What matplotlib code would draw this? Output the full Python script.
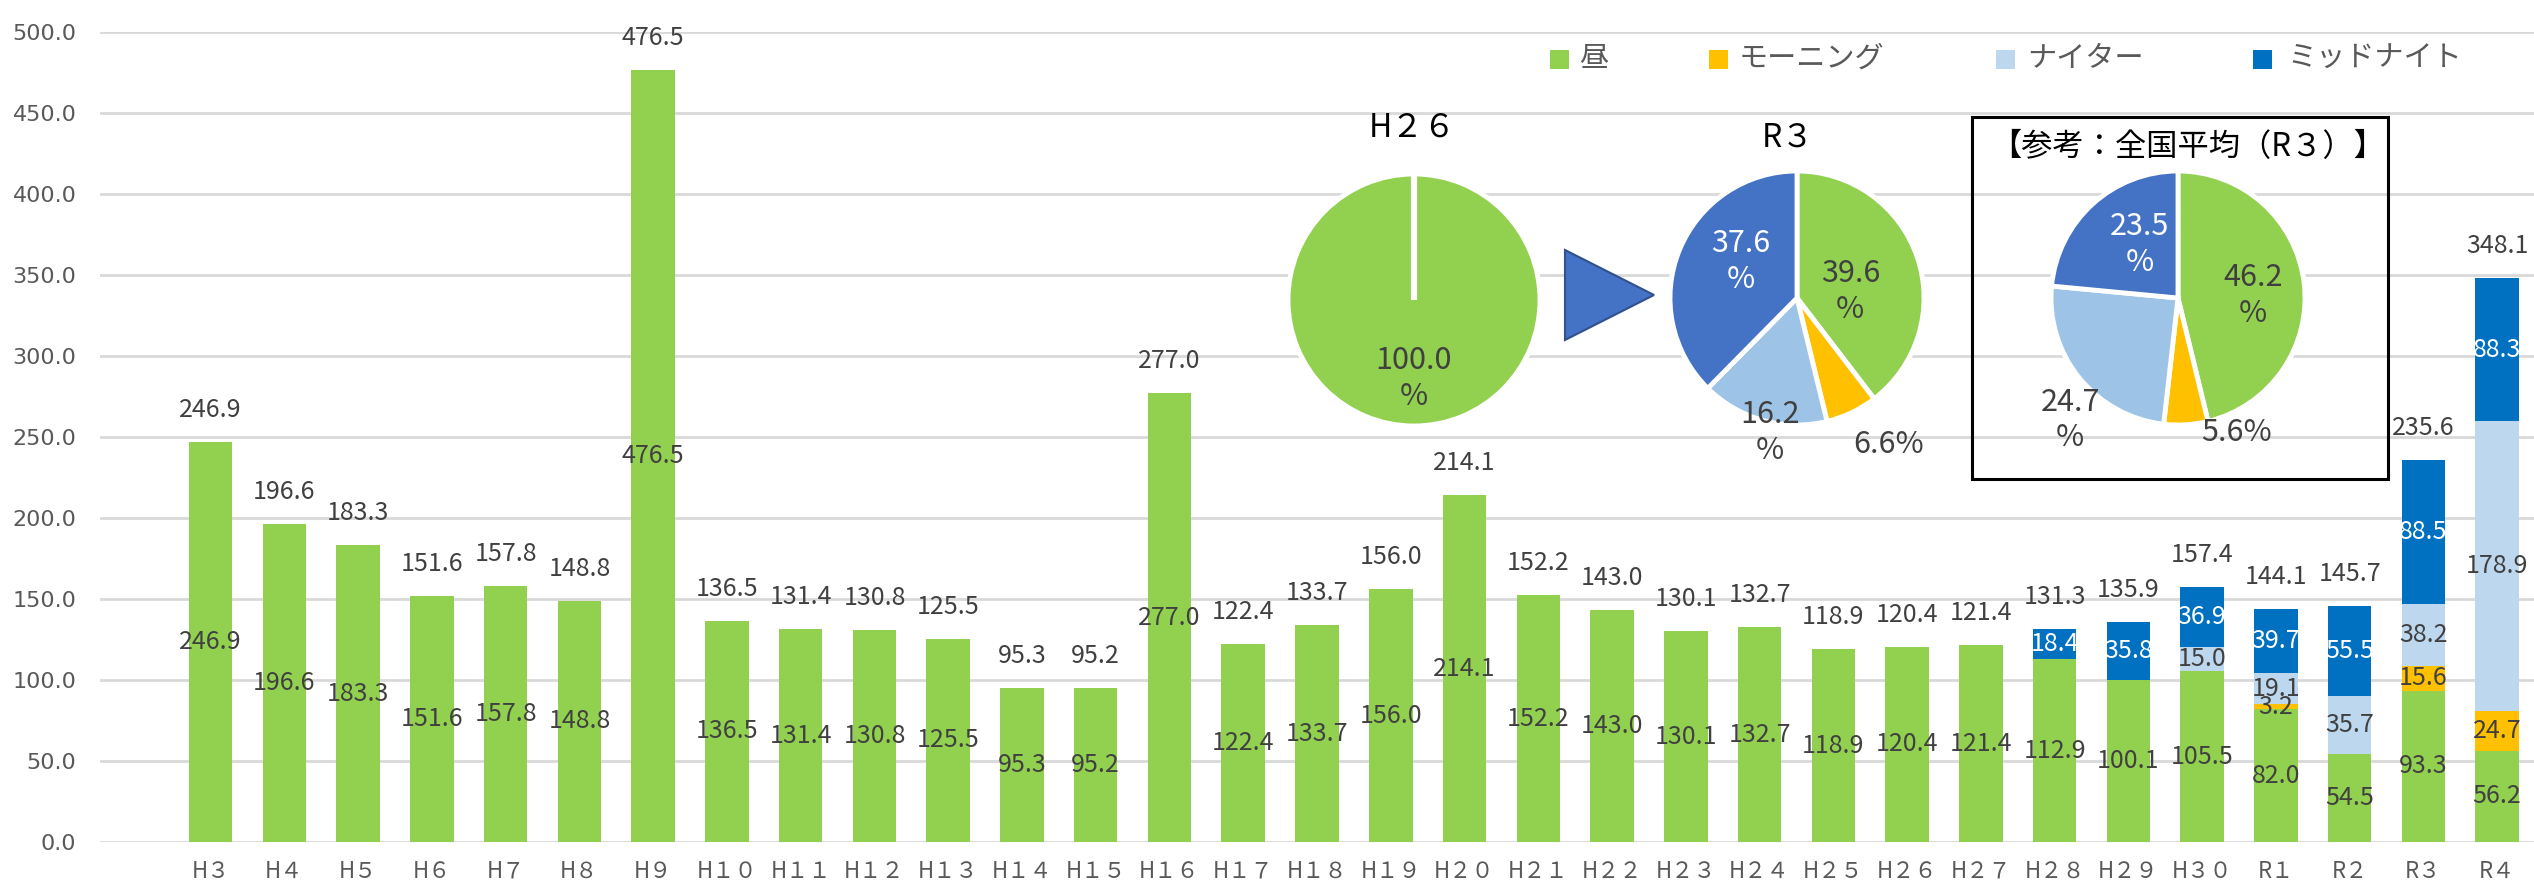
import matplotlib
matplotlib.use('Agg')
import matplotlib.pyplot as plt
from matplotlib import font_manager
from matplotlib.patches import Rectangle, Polygon
import numpy as np

# ---------------- data ----------------
categories = ['H３', 'H４', 'H５', 'H６', 'H７', 'H８', 'H９', 'H１０', 'H１１', 'H１２',
              'H１３', 'H１４', 'H１５', 'H１６', 'H１７', 'H１８', 'H１９', 'H２０', 'H２１', 'H２２',
              'H２３', 'H２４', 'H２５', 'H２６', 'H２７', 'H２８', 'H２９', 'H３０',
              'R１', 'R２', 'R３', 'R４']
day = [246.9, 196.6, 183.3, 151.6, 157.8, 148.8, 476.5, 136.5, 131.4, 130.8,
       125.5, 95.3, 95.2, 277.0, 122.4, 133.7, 156.0, 214.1, 152.2, 143.0,
       130.1, 132.7, 118.9, 120.4, 121.4, 112.9, 100.1, 105.5,
       82.0, 54.5, 93.3, 56.2]
morning = [0, 0, 0, 0, 0, 0, 0, 0, 0, 0,
           0, 0, 0, 0, 0, 0, 0, 0, 0, 0,
           0, 0, 0, 0, 0, 0, 0, 0,
           3.2, 0, 15.6, 24.7]
nighter = [0, 0, 0, 0, 0, 0, 0, 0, 0, 0,
           0, 0, 0, 0, 0, 0, 0, 0, 0, 0,
           0, 0, 0, 0, 0, 0, 0, 15.0,
           19.1, 35.7, 38.2, 178.9]
midnight = [0, 0, 0, 0, 0, 0, 0, 0, 0, 0,
            0, 0, 0, 0, 0, 0, 0, 0, 0, 0,
            0, 0, 0, 0, 0, 18.4, 35.8, 36.9,
            39.7, 55.5, 88.5, 88.3]
totals = [246.9, 196.6, 183.3, 151.6, 157.8, 148.8, 476.5, 136.5, 131.4, 130.8,
          125.5, 95.3, 95.2, 277.0, 122.4, 133.7, 156.0, 214.1, 152.2, 143.0,
          130.1, 132.7, 118.9, 120.4, 121.4, 131.3, 135.9, 157.4,
          144.1, 145.7, 235.6, 348.1]
series_names = ['昼', 'モーニング', 'ナイター', 'ミッドナイト']

pie_h26_vals = [100.0]
pie_r3_vals = [39.6, 6.6, 16.2, 37.6]
pie_nat_vals = [46.2, 5.6, 24.7, 23.5]
pie_h26_title = 'H２６'
pie_r3_title = 'R３'
pie_nat_title = '【参考：全国平均（R３）】'

# ---------------- style ----------------
W, H = 2534, 893
bar_colors = ['#92D050', '#FFC000', '#BDD7EE', '#0070C0']
pie_colors = ['#92D050', '#FFC000', '#9DC3E6', '#4472C4']
lbl_colors = ['#404040', '#404040', '#404040', 'white']
tick_color = '#595959'
grid_color = '#D9D9D9'


def has_font(name):
    try:
        font_manager.findfont(font_manager.FontProperties(family=name), fallback_to_default=False)
        return True
    except Exception:
        return False


narrow = 'Liberation Sans Narrow' if has_font('Liberation Sans Narrow') else 'Noto Sans CJK JP'
cjk = ['Noto Sans CJK JP', 'DejaVu Sans']

fig = plt.figure(figsize=(W / 100, H / 100), dpi=100)
fig.patch.set_facecolor('white')


def fx(x):
    return x / W


def fy(y):
    return 1 - y / H


ax = fig.add_axes([fx(100), fy(842), (2534 - 100) / W, (842 - 32) / H])
x = np.arange(len(categories))
stack = [day, morning, nighter, midnight]
bottom = np.zeros(len(categories))
bw = 0.59
for k, vals in enumerate(stack):
    v = np.array(vals, dtype=float)
    ax.bar(x, v, bw, bottom=bottom, color=bar_colors[k], zorder=3, label=series_names[k])
    for i in range(len(v)):
        if v[i] > 0:
            ax.text(x[i], bottom[i] + v[i] / 2, f'{v[i]:.1f}', ha='center', va='center',
                    fontsize=18, family=narrow, color=lbl_colors[k], zorder=5)
    bottom = bottom + v

for i, t in enumerate(totals):
    ax.annotate(f'{t:.1f}', (x[i], bottom[i]), xytext=(0, 23), textcoords='offset points',
                ha='center', va='center', fontsize=18, family=narrow, color='#404040', zorder=5)

ax.set_xlim(-1.5, len(categories) - 0.5)
ax.set_ylim(0, 500)
ax.set_yticks(np.arange(0, 501, 50))
ax.set_yticklabels([f'{v:.1f}' for v in np.arange(0, 501, 50)], fontsize=16,
                   color=tick_color, family='DejaVu Sans')
ax.set_xticks(x)
ax.set_xticklabels(categories, fontsize=16, color=tick_color, family=cjk)
ax.tick_params(axis='both', length=0)
ax.tick_params(axis='y', pad=17)
ax.tick_params(axis='x', pad=13)
ax.yaxis.grid(True, color=grid_color, linewidth=2, zorder=0)
ax.set_axisbelow(True)
for s in ax.spines.values():
    s.set_visible(False)
ax.set_facecolor('none')

# ---------------- legend (manual) ----------------
leg_sq_x = [1550, 1709, 1996, 2253]
leg_tx_x = [1579, 1739, 2027, 2287]
for k in range(4):
    fig.add_artist(Rectangle((fx(leg_sq_x[k]), fy(69)), 19 / W, 19 / H,
                             transform=fig.transFigure, color=bar_colors[k], lw=0))
    fig.text(fx(leg_tx_x[k]), fy(59), series_names[k], fontsize=21, family=cjk,
             color=tick_color, ha='left', va='center')


# ---------------- pies ----------------
def draw_pie(cx, cy, r, vals, offs, wraps, sep_line=False):
    k = 1.8
    pax = fig.add_axes([fx(cx - k * r), fy(cy + k * r), 2 * k * r / W, 2 * k * r / H])
    cols = pie_colors[:len(vals)]
    pax.pie(vals, colors=cols, startangle=90, counterclock=False, radius=1,
            wedgeprops=dict(edgecolor='white', linewidth=3.5))
    if sep_line:
        pax.plot([0, 0], [0, 1.0], color='white', lw=4.5, solid_capstyle='butt')
    pax.set_xlim(-k, k)
    pax.set_ylim(-k, k)
    pax.set_aspect('equal')
    pax.axis('off')
    for j, v in enumerate(vals):
        txt = f'{v:.1f}\n%' if wraps[j] else f'{v:.1f}%'
        pax.text(offs[j][0], offs[j][1], txt, ha='center', va='center', fontsize=22,
                 family=cjk, color=lbl_colors[j], linespacing=1.2)
    return pax


draw_pie(1414, 300, 126, pie_h26_vals, [(0.0, -0.62)], [True], sep_line=True)
draw_pie(1797, 298, 127, pie_r3_vals,
         [(0.42, 0.05), (0.72, -1.15), (-0.21, -1.06), (-0.44, 0.29)],
         [True, False, True, True])
draw_pie(2178, 298, 127, pie_nat_vals,
         [(0.59, 0.02), (0.46, -1.06), (-0.85, -0.96), (-0.30, 0.42)],
         [True, False, True, True])

fig.text(fx(1412), fy(128), pie_h26_title, fontsize=23, family=cjk, color='black',
         ha='center', va='center')
fig.text(fx(1788), fy(138), pie_r3_title, fontsize=23, family=cjk, color='black',
         ha='center', va='center')
fig.text(fx(2188), fy(147), pie_nat_title, fontsize=22.5, family=cjk, color='black',
         ha='center', va='center')

# reference box
fig.add_artist(Rectangle((fx(1972), fy(479)), (2388 - 1972) / W, (479 - 117) / H,
                         transform=fig.transFigure, fill=False, edgecolor='black', lw=2.2))
# arrow triangle
fig.add_artist(Polygon([(fx(1565), fy(250)), (fx(1565), fy(340)), (fx(1654), fy(295))],
                       closed=True, transform=fig.transFigure,
                       facecolor='#4472C4', edgecolor='#2F528F', lw=1.5))

fig.savefig('out.png', dpi=100, facecolor='white')
